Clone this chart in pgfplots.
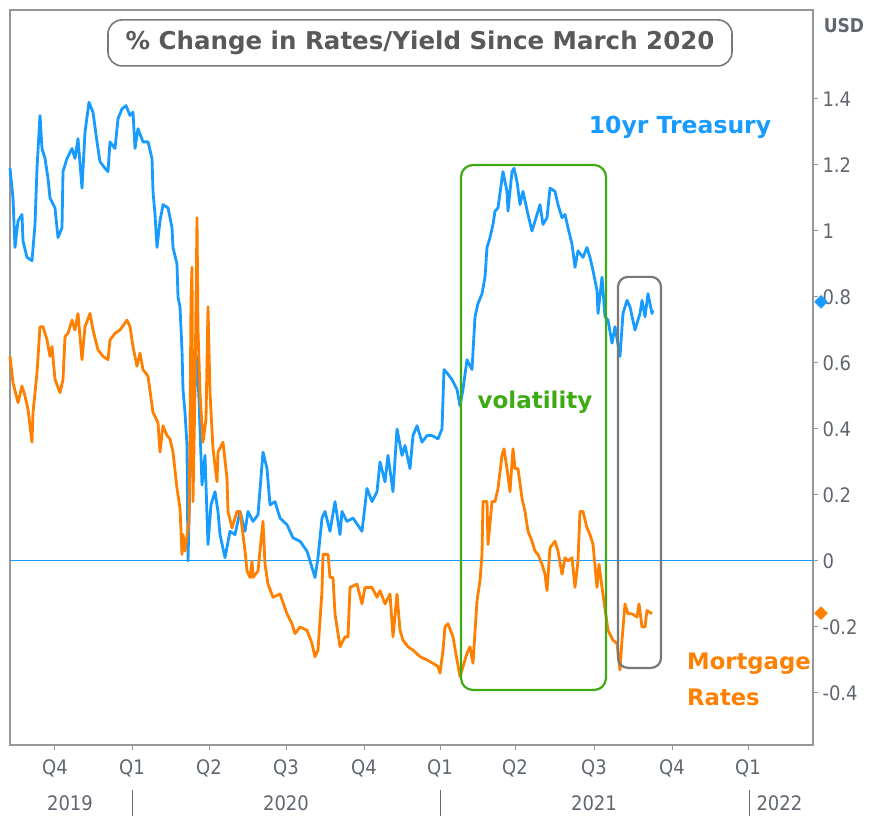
\documentclass[border=0pt]{standalone}
\usepackage{pgfplots}
\pgfplotsset{compat=1.18}
\usepackage{fontspec}
\setmainfont{DejaVu Sans}
\newfontfamily\condfont{DejaVu Sans Condensed}
\definecolor{tblue}{RGB}{24,155,255}
\definecolor{torange}{RGB}{255,128,0}
\definecolor{tgreen}{RGB}{62,170,20}
\definecolor{labelgray}{RGB}{89,89,89}
\definecolor{ticklabelgray}{RGB}{96,102,112}
\definecolor{framegray}{RGB}{150,150,150}
\definecolor{boxgray}{RGB}{120,120,120}
\begin{document}
\begin{tikzpicture}
\begin{axis}[
  scale only axis, width=803pt, height=735pt,
  xmin=10, xmax=813, ymin=-0.5576, ymax=1.6697,
  axis line style={draw=framegray, line width=1.2pt},
  xtick={55,132,209,286,364,440,515,594,672,748},
  xticklabels={Q4,Q1,Q2,Q3,Q4,Q1,Q2,Q3,Q4,Q1},
  ytick={-0.4,-0.2,0,0.2,0.4,0.6,0.8,1,1.2,1.4},
  yticklabels={-0.4,-0.2,0,0.2,0.4,0.6,0.8,1,1.2,1.4},
  xtick pos=left, ytick pos=right, yticklabel pos=right,
  tick align=outside, major tick length=5pt,
  tick style={framegray, line width=1pt},
  ticklabel style={font=\condfont\fontsize{20}{20}\selectfont, text=ticklabelgray},
  xticklabel style={yshift=-6pt},
  yticklabel style={xshift=1pt},
  clip=false,
]
\addplot[tblue, line width=1pt, forget plot] coordinates {(10,0) (813,0)};
% 10yr Treasury
\addplot[tblue, line width=2.8pt, line join=round] coordinates {
(10,1.19)(13,1.10)(15,0.95)(18,1.03)(22,1.05)(23,0.97)(27,0.92)(32,0.91)(35,1.02)(37,1.19)
(40,1.35)(42,1.25)(45,1.22)(48,1.16)(50,1.10)(55,1.07)(58,0.98)(62,1.01)(63,1.18)(67,1.22)
(72,1.25)(75,1.22)(78,1.28)(82,1.13)(85,1.30)(89,1.39)(93,1.36)(97,1.27)(100,1.21)(105,1.19)
(108,1.18)(110,1.27)(115,1.25)(118,1.34)(122,1.37)(126,1.38)(130,1.35)(133,1.36)(135,1.25)(138,1.31)
(143,1.27)(148,1.27)(152,1.22)(153,1.12)(155,1.05)(157,0.95)(160,1.03)(163,1.08)(168,1.07)(172,1.01)
(173,0.95)(177,0.90)(178,0.80)(180,0.77)(182,0.64)(183,0.52)(185,0.45)(187,0.35)(188,0.00)(190,0.25)
(193,0.43)(197,0.62)(199,0.49)(200,0.40)(202,0.23)(205,0.32)(208,0.05)(211,0.17)(215,0.21)(218,0.15)
(220,0.08)(225,0.01)(230,0.09)(235,0.08)(240,0.15)(245,0.09)(248,0.15)(253,0.12)(258,0.14)(263,0.33)
(267,0.28)(270,0.17)(275,0.18)(280,0.13)(287,0.11)(293,0.07)(300,0.06)(307,0.03)(312,-0.02)(315,-0.05)
(318,0.01)(322,0.13)(325,0.15)(330,0.09)(335,0.18)(340,0.08)(342,0.15)(347,0.12)(353,0.13)(362,0.09)
(367,0.22)(372,0.18)(377,0.21)(380,0.30)(385,0.24)(388,0.32)(393,0.21)(397,0.40)(402,0.32)(405,0.35)
(410,0.28)(413,0.38)(417,0.41)(422,0.36)(427,0.38)(432,0.38)(438,0.37)(442,0.40)(444,0.58)(447,0.57)
(452,0.55)(457,0.52)(460,0.47)(463,0.52)(467,0.61)(472,0.58)(475,0.74)(478,0.78)(482,0.81)(485,0.86)
(487,0.95)(490,0.98)(493,1.02)(495,1.06)(498,1.07)(502,1.16)(503,1.18)(507,1.12)(508,1.06)(512,1.18)
(514,1.19)(517,1.15)(520,1.08)(523,1.12)(528,1.05)(532,1.00)(537,1.05)(540,1.08)(543,1.02)(547,1.04)
(550,1.13)(555,1.12)(558,1.08)(562,1.04)(565,1.05)(568,1.01)(572,0.96)(575,0.89)(578,0.94)(583,0.92)
(587,0.95)(590,0.92)(593,0.88)(597,0.82)(598,0.75)(602,0.86)(605,0.74)(608,0.73)(612,0.66)(615,0.71)
(620,0.62)(623,0.75)(627,0.79)(630,0.77)(635,0.70)(640,0.75)(642,0.79)(645,0.74)(648,0.81)(652,0.75)
(653,0.76)
};
% Mortgage rates
\addplot[torange, line width=2.8pt, line join=round] coordinates {
(10,0.62)(13,0.54)(18,0.48)(22,0.53)(25,0.50)(28,0.46)(32,0.36)(33,0.45)(37,0.57)(40,0.71)
(43,0.71)(47,0.67)(50,0.62)(52,0.65)(55,0.55)(60,0.51)(63,0.55)(65,0.68)(68,0.69)(72,0.73)
(75,0.70)(78,0.75)(82,0.61)(85,0.71)(90,0.75)(93,0.70)(98,0.64)(103,0.62)(108,0.61)(110,0.67)
(115,0.69)(120,0.70)(127,0.73)(130,0.71)(133,0.65)(137,0.59)(140,0.63)(143,0.58)(148,0.56)(153,0.45)
(158,0.42)(160,0.33)(163,0.41)(167,0.38)(170,0.37)(173,0.33)(177,0.22)(180,0.16)(182,0.02)(183,0.08)
(185,0.03)(189,0.12)(190,0.39)(191,0.79)(192,0.89)(193,0.18)(195,0.52)(197,1.04)(198,0.70)(200,0.51)
(203,0.36)(206,0.43)(208,0.77)(210,0.51)(213,0.34)(217,0.24)(218,0.33)(223,0.36)(227,0.25)(228,0.15)
(232,0.10)(237,0.15)(240,0.15)(243,0.08)(245,0.03)(247,-0.03)(250,-0.05)(252,0.00)(253,-0.05)(258,-0.03)
(263,0.12)(265,-0.01)(268,-0.07)(273,-0.11)(280,-0.10)(287,-0.16)(292,-0.19)(295,-0.22)(300,-0.20)(307,-0.21)
(312,-0.25)(315,-0.29)(318,-0.27)(322,-0.09)(323,0.02)(328,0.02)(330,-0.05)(333,-0.05)(335,-0.16)(340,-0.26)
(345,-0.23)(348,-0.23)(350,-0.08)(357,-0.07)(362,-0.13)(365,-0.08)(372,-0.08)(377,-0.11)(380,-0.09)(385,-0.13)
(390,-0.10)(393,-0.23)(397,-0.10)(400,-0.21)(403,-0.24)(408,-0.26)(413,-0.27)(420,-0.29)(427,-0.30)(433,-0.31)
(438,-0.32)(440,-0.34)(443,-0.27)(445,-0.20)(448,-0.19)(453,-0.23)(457,-0.30)(460,-0.35)(463,-0.32)(467,-0.28)
(470,-0.26)(473,-0.31)(477,-0.12)(480,-0.06)(482,0.02)(483,0.18)(487,0.18)(488,0.05)(492,0.18)(495,0.18)
(498,0.22)(502,0.32)(504,0.34)(507,0.28)(510,0.21)(513,0.34)(515,0.28)(518,0.28)(522,0.19)(525,0.15)
(528,0.09)(532,0.06)(535,0.03)(538,0.02)(542,-0.01)(545,-0.04)(547,-0.09)(550,0.04)(555,0.06)(558,0.03)
(562,-0.04)(565,0.01)(568,0.00)(572,0.01)(575,-0.08)(578,0.00)(580,0.15)(583,0.15)(587,0.10)(590,0.08)
(593,0.05)(597,-0.08)(599,-0.01)(602,-0.08)(608,-0.21)(613,-0.24)(617,-0.25)(620,-0.33)(622,-0.24)(625,-0.13)
(628,-0.16)(632,-0.16)(637,-0.17)(639,-0.13)(642,-0.20)(645,-0.20)(647,-0.15)(652,-0.16)
};
% last-value markers on the right axis
\addplot[only marks, mark=square*, mark size=4.6pt, mark options={rotate=45, line width=0.4pt}, color=tblue] coordinates {(821,0.785)};
\addplot[only marks, mark=square*, mark size=4.6pt, mark options={rotate=45, line width=0.4pt}, color=torange] coordinates {(821,-0.158)};
% annotations
\node[draw=boxgray, line width=1.6pt, rounded corners=14pt, minimum width=624pt, minimum height=46pt,
      text=labelgray, font=\bfseries\fontsize{24.5}{24.5}\selectfont] at (axis cs:420,1.570)
      {\% Change in Rates/Yield Since March 2020};
\node[text=tblue, font=\bfseries\fontsize{23.5}{23.5}\selectfont] at (axis cs:680,1.315) {10yr Treasury};
\node[text=tgreen, font=\bfseries\fontsize{23}{23}\selectfont] at (axis cs:535,0.482) {volatility};
\node[text=torange, font=\bfseries\fontsize{22.7}{36}\selectfont, align=left, anchor=west, inner sep=0pt]
      at (axis cs:687,-0.36) {Mortgage\\Rates};
\draw[tgreen, line width=2.2pt, rounded corners=12pt] (axis cs:461,1.20) rectangle (axis cs:606,-0.391);
\draw[boxgray, line width=2.2pt, rounded corners=10pt] (axis cs:618,0.861) rectangle (axis cs:661,-0.324);
\node[text=ticklabelgray, font=\condfont\bfseries\fontsize{19}{19}\selectfont] at (axis cs:844,1.621) {USD};
% year row
\node[text=ticklabelgray, font=\condfont\fontsize{20}{20}\selectfont] at (axis cs:70,-0.733) {2019};
\node[text=ticklabelgray, font=\condfont\fontsize{20}{20}\selectfont] at (axis cs:286,-0.733) {2020};
\node[text=ticklabelgray, font=\condfont\fontsize{20}{20}\selectfont] at (axis cs:594,-0.733) {2021};
\node[text=ticklabelgray, font=\condfont\fontsize{20}{20}\selectfont, anchor=west] at (axis cs:753,-0.733) {2022};
\draw[ticklabelgray, line width=1pt] (axis cs:132,-0.694) -- (axis cs:132,-0.775);
\draw[ticklabelgray, line width=1pt] (axis cs:440,-0.694) -- (axis cs:440,-0.775);
\draw[ticklabelgray, line width=1pt] (axis cs:749,-0.694) -- (axis cs:749,-0.775);
\end{axis}
\pgfresetboundingbox
\path ([shift={(-10pt,-70pt)}]current axis.south west) rectangle ([shift={(861pt,745pt)}]current axis.south west);
\end{tikzpicture}
\end{document}
